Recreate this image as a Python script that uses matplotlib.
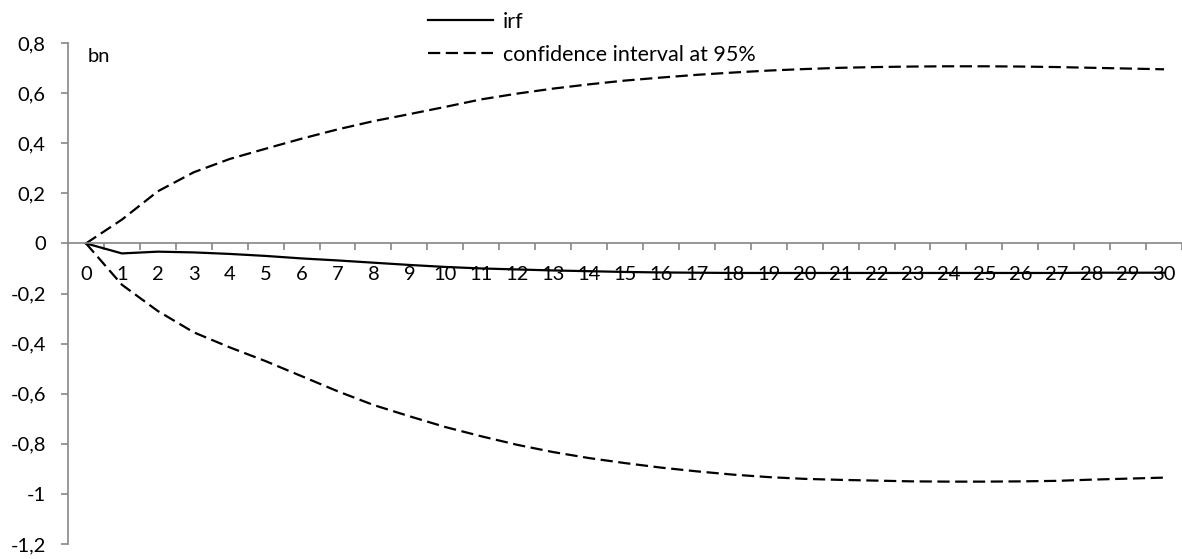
"""Impulse response with 95% confidence band (Excel-style line chart)"""
import matplotlib
matplotlib.use('Agg')
import matplotlib.pyplot as plt
from matplotlib.ticker import FixedLocator, FuncFormatter

periods = list(range(31))

irf = [0.0, -0.040, -0.033, -0.036, -0.042, -0.050, -0.060, -0.068, -0.077, -0.086,
       -0.094, -0.100, -0.104, -0.108, -0.111, -0.114, -0.116, -0.117, -0.118, -0.118,
       -0.118, -0.118, -0.118, -0.118, -0.118, -0.118, -0.118, -0.118, -0.117, -0.117,
       -0.117]

ci_upper = [0.0, 0.095, 0.208, 0.284, 0.337, 0.378, 0.418, 0.455, 0.488, 0.516,
            0.545, 0.575, 0.598, 0.618, 0.635, 0.650, 0.662, 0.673, 0.682, 0.690,
            0.696, 0.701, 0.704, 0.706, 0.707, 0.707, 0.706, 0.704, 0.701, 0.698,
            0.695]

ci_lower = [0.0, -0.165, -0.270, -0.355, -0.415, -0.470, -0.530, -0.590, -0.645, -0.690,
            -0.733, -0.770, -0.804, -0.833, -0.857, -0.877, -0.895, -0.910, -0.923, -0.933,
            -0.940, -0.944, -0.947, -0.950, -0.951, -0.951, -0.950, -0.948, -0.943, -0.939,
            -0.935]

y_ticks = [-1.2, -1.0, -0.8, -0.6, -0.4, -0.2, 0.0, 0.2, 0.4, 0.6, 0.8]

plt.rcParams['font.family'] = ['Lato', 'DejaVu Sans']
plt.rcParams['font.size'] = 14.5

W, H = 1182, 559
fig = plt.figure(figsize=(W / 100, H / 100), dpi=100)
ax = fig.add_axes([68 / W, 15 / H, 1 - 68 / W, (544 - 43) / H])

axis_grey = '#868686'

ax.plot(periods, irf, color='black', lw=1.6, label='irf')
ax.plot(periods, ci_upper, color='black', lw=1.6, dashes=(5.5, 2.5),
        label='confidence interval at 95%')
ax.plot(periods, ci_lower, color='black', lw=1.6, dashes=(5.5, 2.5))

ax.set_xlim(-0.5, 30.5)
ax.set_ylim(-1.2, 0.8)

for side in ['top', 'right']:
    ax.spines[side].set_visible(False)
ax.spines['bottom'].set_position(('data', 0))
ax.spines['bottom'].set_color(axis_grey)
ax.spines['left'].set_color(axis_grey)
ax.spines['bottom'].set_linewidth(1.2)
ax.spines['left'].set_linewidth(1.2)

# category labels sit between the tick marks
ax.set_xticks(periods)
ax.set_xticklabels([str(p) for p in periods])
ax.xaxis.set_minor_locator(FixedLocator([p + 0.5 for p in periods]))
ax.tick_params(axis='x', which='minor', length=5, width=1.2, color=axis_grey,
               direction='out')

def comma_fmt(v, pos):
    s = f'{v:.1f}'.replace('.', ',')
    if s.endswith(',0'):
        s = s[:-2]
    if s == '-0':
        s = '0'
    return s

ax.set_yticks(y_ticks)
ax.yaxis.set_major_formatter(FuncFormatter(comma_fmt))
ax.tick_params(axis='y', length=5, width=1.2, color=axis_grey, pad=11, labelsize=14.5)

fig.text(88 / W, 1 - 57 / H, 'bn', fontsize=14.5, va='center', ha='left')

# x labels: centre about 274 px from the top
pad = 15
for _ in range(3):
    ax.tick_params(axis='x', which='major', length=0, pad=pad, labelsize=14.5)
    fig.canvas.draw()
    r = fig.canvas.get_renderer()
    bb = ax.get_xticklabels()[0].get_window_extent(r)
    cy = H - (bb.y0 + bb.y1) / 2
    pad = pad + (274 - cy) * 0.72

# legend rows should land at y=22 and y=55 px from the top
leg_fs = 15.5
leg_px = leg_fs * 100 / 72
spacing = 0.7
top = 12
for _ in range(3):
    leg = fig.legend(loc='upper left', bbox_to_anchor=(428 / W, 1 - top / H),
                     frameon=False, borderpad=0, borderaxespad=0,
                     handlelength=3.0, handletextpad=0.47,
                     labelspacing=spacing, fontsize=leg_fs)
    fig.canvas.draw()
    r = fig.canvas.get_renderer()
    ys = [H - (t.get_window_extent(r).y0 + t.get_window_extent(r).y1) / 2
          for t in leg.get_texts()]
    gap = ys[1] - ys[0]
    spacing = max(0.0, spacing + (33 - gap) / leg_px)
    top = top + (22 - ys[0])
    leg.remove()

fig.legend(loc='upper left', bbox_to_anchor=(428 / W, 1 - top / H),
           frameon=False, borderpad=0, borderaxespad=0,
           handlelength=3.0, handletextpad=0.47,
           labelspacing=spacing, fontsize=leg_fs)

fig.savefig('out.png', dpi=100)
